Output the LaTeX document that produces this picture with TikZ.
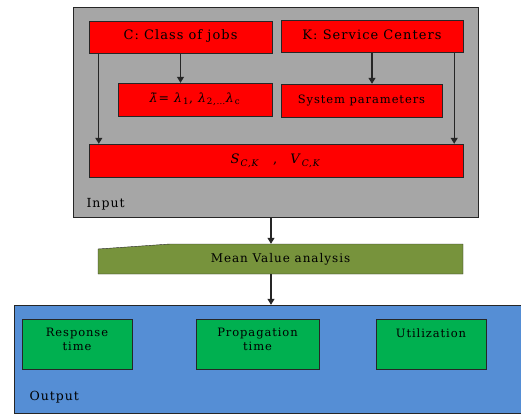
\documentclass[tikz,border=0pt]{standalone}
\usepackage{fontspec}
\setmainfont{DejaVu Serif}[LetterSpace=8]
\usetikzlibrary{arrows.meta}
\definecolor{ingray}{HTML}{A6A6A6}
\definecolor{boxred}{HTML}{FF0000}
\definecolor{mvagreen}{HTML}{77933C}
\definecolor{outblue}{HTML}{558ED5}
\definecolor{resgreen}{HTML}{00B050}
\newcommand{\lmb}[1]{\textit{λ}\textsubscript{#1}}
\begin{document}
\begin{tikzpicture}[x=1pt,y=-1pt,>={Triangle[length=6pt,width=7pt]},
    redbox/.style={draw=black!85,fill=boxred,inner sep=0pt,minimum height=32pt},
    topbox/.style={redbox,text depth=4pt,font=\fontsize{13}{16}\selectfont},
    greenbox/.style={draw=black!85,fill=resgreen,inner sep=0pt,minimum width=110pt,minimum height=50pt},
    gtext/.style={anchor=north,align=center,yshift=-6pt,font=\fontsize{11.5}{14}\selectfont},
    arr/.style={->,draw=black!85,line width=1.1pt}]
    \useasboundingbox (0,0) rectangle (521,414);

    % input block
    \node[draw=black!85,fill=ingray,minimum width=405pt,minimum height=210pt] (input) at (275.5,112) {};
    \node[anchor=west,font=\fontsize{12.5}{14}\selectfont] (inlbl) at (83,204) {Input};

    \node[topbox,minimum width=183pt] (cls) at (180.5,37) {C: Class of jobs};
    \node[topbox,minimum width=182pt] (ksc) at (372,36.5) {K: Service Centers};
    \node[redbox,minimum width=154pt,minimum height=33pt,font=\fontsize{12.5}{16}\selectfont] (lam) at (195,99.5)
        {\textit{λ̄}= \lmb{1}, \lmb{2,…}\lmb{c}};
    \node[redbox,minimum width=161pt,minimum height=33pt,font=\fontsize{11.5}{14}\selectfont] (sys) at (361.5,100.5) {System parameters};
    \node[redbox,minimum width=374pt,minimum height=33pt,font=\fontsize{13}{16}\selectfont] (sv) at (276,160.5)
        {\textit{S}\textsubscript{\textit{C,K}}\quad,\quad\textit{V}\textsubscript{\textit{C,K}}};

    \coordinate (cl) at ([xshift=10pt]cls.south west);
    \coordinate (kr) at ([xshift=-9pt]ksc.south east);
    \draw[arr] (cl) -- (cl |- sv.north);
    \draw[arr] (cls.south) -- (cls.south |- lam.north);
    \draw[arr] (ksc.south) -- (ksc.south |- sys.north);
    \draw[arr] (kr) -- (kr |- sv.north);

    % analysis step
    \fill[mvagreen,draw=black!85] (98,274) -- (98,249) -- (170,244) -- (463,244) -- (463,274) -- cycle;
    \node[minimum width=365pt,minimum height=30pt,font=\fontsize{12}{14}\selectfont] (mva) at (280.5,259) {Mean Value analysis};

    % output block
    \node[draw=black!85,fill=outblue,minimum width=516pt,minimum height=108pt] (output) at (272,359) {};
    \node[anchor=west,font=\fontsize{12.5}{14}\selectfont] (outlbl) at (26,397) {Output};

    \node[greenbox,label={[gtext]north:Response\\time}] (rt) at (77,344) {};
    \node[greenbox,minimum width=123pt,label={[gtext]north:Propagation\\time}] (pt) at (257.5,344) {};
    \node[greenbox,label={[gtext]north:Utilization}] (ut) at (431,344) {};

    \coordinate (md) at ([xshift=-4.5pt]input.south);
    \draw[arr] (md) -- (md |- mva.north);
    \draw[arr] (md |- mva.south) -- (md |- output.north);
\end{tikzpicture}
\end{document}
